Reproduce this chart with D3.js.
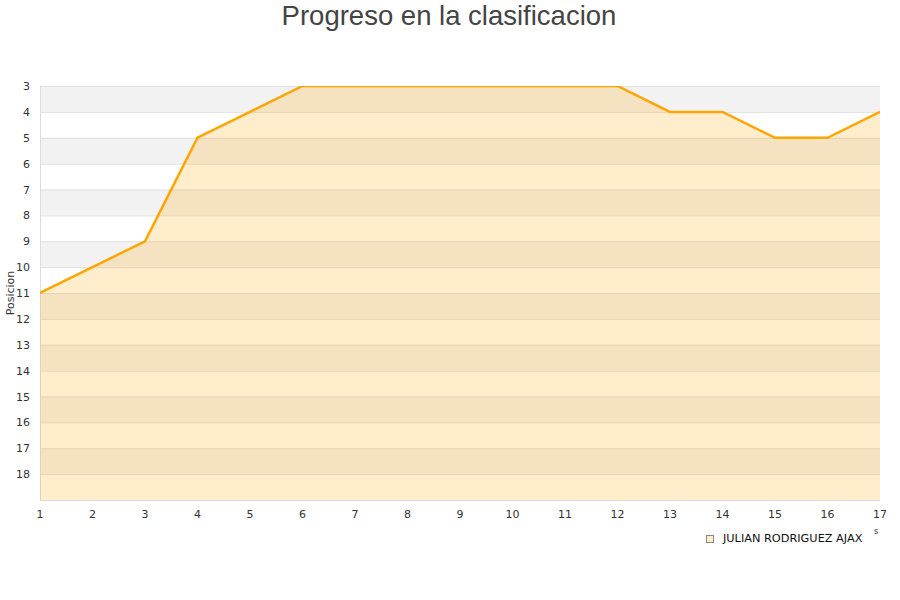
<!DOCTYPE html>
<html><head><meta charset="utf-8">
<script src="https://cdn.jsdelivr.net/npm/d3@7"></script>
<style>body{margin:0;background:#fff}svg{display:block}</style>
</head><body>
<svg id="c" width="900" height="600"></svg>
<script>
const title = "Progreso en la clasificacion";
const seriesName = "JULIAN RODRIGUEZ AJAX";
const jornadas = [1,2,3,4,5,6,7,8,9,10,11,12,13,14,15,16,17];
const posiciones = [11,10,9,5,4,3,3,3,3,3,3,3,4,4,5,5,4];
const yTicks = [3,4,5,6,7,8,9,10,11,12,13,14,15,16,17,18];

const svg = d3.select("#c");
const m = {l:40, r:20, t:86, b:100};
const W = 900, H = 600;
const x = d3.scaleLinear().domain([1,17]).range([m.l, W-m.r]);
const y = d3.scaleLinear().domain([3,19]).range([m.t, H-m.b]);

svg.append("text").attr("x",449).attr("y",25).attr("text-anchor","middle")
  .attr("font-family","Liberation Sans, Arial, sans-serif").attr("font-size",27.5).attr("fill","#444").text(title);

// bands
const bands = d3.range(3,19,2);
svg.append("g").selectAll("rect").data(bands).join("rect")
  .attr("x",x(1)).attr("width",x(17)-x(1))
  .attr("y",d=>y(d)).attr("height",d=>y(d+1)-y(d)).attr("fill","#f2f2f2");
// grid
svg.append("g").selectAll("line").data(d3.range(3,20)).join("line")
  .attr("x1",x(1)).attr("x2",x(17)).attr("y1",d=>y(d)+0.5).attr("y2",d=>y(d)+0.5)
  .attr("stroke","#e0e0e0").attr("stroke-width",1);
svg.append("line").attr("x1",x(1)+0.5).attr("x2",x(1)+0.5).attr("y1",y(3)).attr("y2",y(19)+0.5).attr("stroke","#dcdcdc");
svg.append("line").attr("x1",x(1)).attr("x2",x(17)).attr("y1",y(19)+0.5).attr("y2",y(19)+0.5).attr("stroke","#dcdcdc");

svg.append("clipPath").attr("id","cp").append("rect")
  .attr("x",x(1)).attr("y",y(3)).attr("width",x(17)-x(1)).attr("height",y(19)-y(3));

const data = jornadas.map((j,i)=>({j, p:posiciones[i]}));
const area = d3.area().x(d=>x(d.j)).y0(y(19)).y1(d=>y(d.p));
const line = d3.line().x(d=>x(d.j)).y(d=>y(d.p));
const g = svg.append("g").attr("clip-path","url(#cp)");
g.append("path").datum(data).attr("d",area).attr("fill","rgba(255,165,0,0.2)");
g.append("path").datum(data).attr("d",line).attr("fill","none").attr("stroke","#ffa500").attr("stroke-width",2.5);

const font = "DejaVu Sans, sans-serif";
svg.append("g").selectAll("text").data(yTicks).join("text")
  .attr("x",30).attr("y",d=>y(d)+4).attr("text-anchor","end")
  .attr("font-family",font).attr("font-size",11).attr("fill","#333").text(d=>d);
svg.append("g").selectAll("text").data(jornadas).join("text")
  .attr("x",d=>x(d)).attr("y",518).attr("text-anchor","middle")
  .attr("font-family",font).attr("font-size",11).attr("fill","#333").text(d=>d);

svg.append("text").attr("transform","translate(14,293) rotate(-90)").attr("text-anchor","middle")
  .attr("font-family",font).attr("font-size",11).attr("fill","#333").text("Posicion");
svg.append("text").attr("x",876).attr("y",534).attr("text-anchor","middle")
  .attr("font-family",font).attr("font-size",8).attr("fill","#333").text("s");

// legend
svg.append("rect").attr("x",706.5).attr("y",535.5).attr("width",7).attr("height",7)
  .attr("fill","#ffedcc").attr("stroke","#888");
svg.append("text").attr("x",723).attr("y",542).attr("font-family",font).attr("font-size",11.3)
  .attr("fill","#111").text(seriesName);
</script>
</body></html>
